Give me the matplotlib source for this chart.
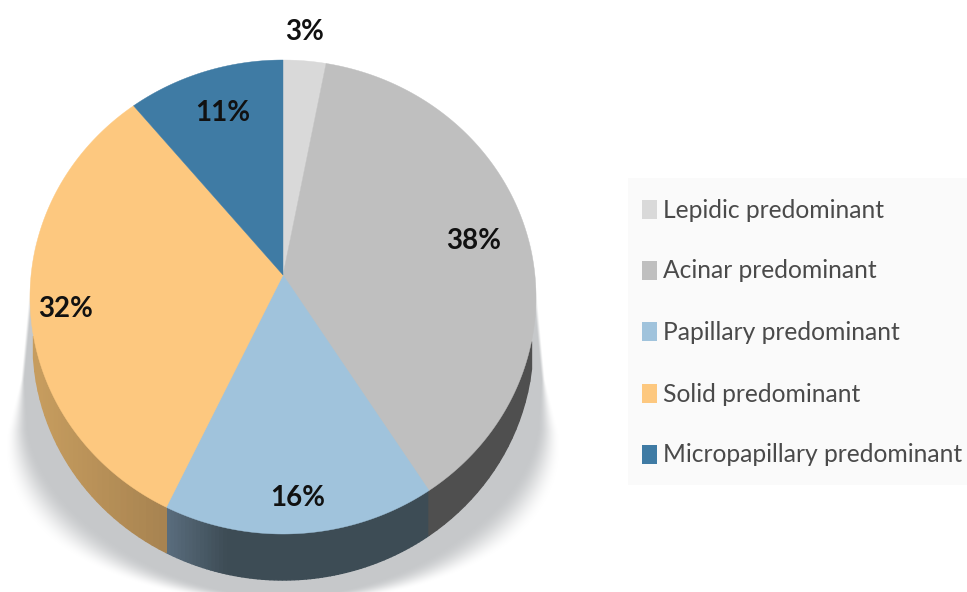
import numpy as np
import matplotlib
matplotlib.use("Agg")
import matplotlib.pyplot as plt
from matplotlib.colors import to_rgb
from matplotlib.patches import Rectangle, Polygon

categories = ["Lepidic predominant", "Acinar predominant", "Papillary predominant",
              "Solid predominant", "Micropapillary predominant"]
shares = [3, 38, 16, 32, 11]
pct_labels = ["3%", "38%", "16%", "32%", "11%"]
colors = ["#d9d9d9", "#bfbfbf", "#a0c3dc", "#fdc87f", "#3f7ba4"]
wall_dark = ["#8a8a8a", "#4f4f4f", "#3d4c55", "#a68250", "#2b526e"]
wall_light = ["#a0a0a0", "#4f4f4f", "#5a6d7e", "#c69c5e", "#3a6585"]

plt.rcParams["font.family"] = ["Lato", "DejaVu Sans"]

W, H = 967, 592
fig = plt.figure(figsize=(W / 100, H / 100), dpi=100)
ax = fig.add_axes([0, 0, 1, 1])
ax.set_xlim(0, W)
ax.set_ylim(H, 0)
ax.axis("off")

# pie geometry in pixels, the apex sits above the ellipse centre (perspective)
cx, cy = 283, 297
rx, ry = 253, 237
apex_y = 275
depth = 46
rx_low = 250
k = ry / rx


def rim(t):
    # where the ray from the apex at data angle t hits the top ellipse
    dx, dy = np.sin(t), -k * np.cos(t)
    oy = apex_y - cy
    a = (dx / rx) ** 2 + (dy / ry) ** 2
    b = 2 * oy * dy / ry ** 2
    c = (oy / ry) ** 2 - 1
    s = (-b + np.sqrt(b ** 2 - 4 * a * c)) / (2 * a)
    return cx + s * dx, apex_y + s * dy


def lower_edge(x):
    # bottom outline of the wall at the same x
    u = np.clip((x - cx) / rx_low, -1, 1)
    return cy + depth + ry * np.sqrt(1 - u ** 2)


# soft shadow behind the pie
yy, xx = np.mgrid[0:H, 0:W] + 0.5
half = np.where(yy < 430, 248 + 17 * (yy - 250) / 180,
                265 * np.sqrt(np.clip(1 - ((yy - 430) / 170) ** 2, 0, 1)))
soft = np.clip(4 + (yy - 380) * 0.35, 4, 60)
shade = np.clip(0.5 + (half - np.abs(xx - cx)) / soft, 0, 1)
shade = shade * shade * (3 - 2 * shade)
shade = shade * np.clip((yy - 240) / 50, 0, 1)
rgba = np.zeros((H, W, 4))
rgba[..., :3] = to_rgb("#c6c8ca")
rgba[..., 3] = shade
ax.imshow(rgba, extent=(0, W, H, 0), zorder=1, aspect="auto", interpolation="bilinear")
ax.set_xlim(0, W)
ax.set_ylim(H, 0)

# angle edges, clockwise from the top
edges = np.cumsum([0] + shares) / 100 * 2 * np.pi

# side wall, drawn as thin vertical strips on the front half only
for i in range(len(shares)):
    ts = np.linspace(edges[i], edges[i + 1], 70)
    xs, ys = rim(ts)
    c0 = np.array(to_rgb(wall_light[i]))
    c1 = np.array(to_rgb(wall_dark[i]))
    for j in range(len(ts) - 1):
        if ys[j] < cy or ys[j + 1] < cy:
            continue
        if abs(xs[j] - cx) >= rx_low or abs(xs[j + 1] - cx) >= rx_low:
            continue
        low0, low1 = lower_edge(xs[j]), lower_edge(xs[j + 1])
        if low0 <= ys[j] and low1 <= ys[j + 1]:
            continue
        mid = (xs[j] + xs[j + 1]) / 2
        # yellow wall darkens toward the blue one, blue wall has a light left end
        if i == 3:
            f = np.clip((mid - 40) / 130, 0, 1)
        else:
            f = np.clip((mid - xs[-1]) / 60, 0, 1)
        col = c0 + (c1 - c0) * f
        ax.add_patch(Polygon([(xs[j], ys[j]), (xs[j + 1], ys[j + 1]),
                              (xs[j + 1], max(low1, ys[j + 1])), (xs[j], max(low0, ys[j]))],
                             fc=col, ec=col, lw=1.0, zorder=2 + 0.1 * (i == 1)))

# top face
for i in range(len(shares)):
    ts = np.linspace(edges[i], edges[i + 1], 200)
    xs, ys = rim(ts)
    pts = np.column_stack([np.r_[cx, xs], np.r_[apex_y, ys]])
    ax.add_patch(Polygon(pts, fc=colors[i], ec=colors[i], lw=0.3, zorder=3))

# value labels
label_pos = [(305, 32), (474, 241), (298, 498), (66, 309), (223, 113)]
for txt, (x, y) in zip(pct_labels, label_pos):
    ax.text(x, y, txt, fontsize=20, fontweight="bold", ha="center", va="center",
            color="#111111", zorder=5)

# legend panel
ax.add_patch(Rectangle((628, 178), 339, 307, fc="#fafafa", ec="none", zorder=1))
legend_y = [210, 271, 332, 394, 455]
for name, col, y in zip(categories, colors, legend_y):
    ax.add_patch(Rectangle((642, y - 10), 15, 19, fc=col, ec="none", zorder=3))
    ax.text(663, y, name, fontsize=17.7, ha="left", va="center", color="#4a4a4a", zorder=3)

fig.savefig("out.png", dpi=100)
